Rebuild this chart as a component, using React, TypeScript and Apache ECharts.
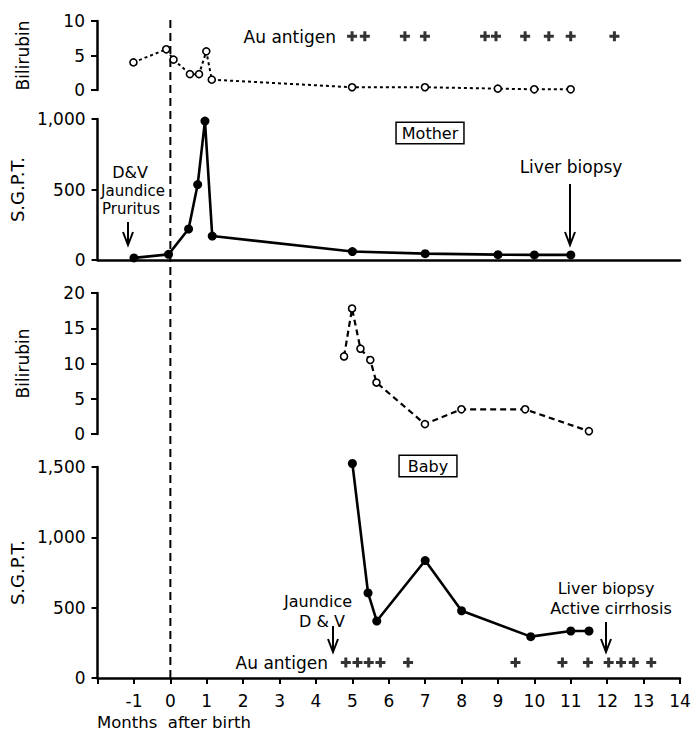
import React, { useEffect, useRef } from "react";
import * as echarts from "echarts";

// ---- data (months after birth) ----
const motherBiliMonths = [-1, -0.1, 0.1, 0.55, 0.8, 1.0, 1.15, 5, 7, 9, 10, 11];
const motherBiliValues = [4.0, 5.9, 4.4, 2.3, 2.3, 5.6, 1.5, 0.4, 0.4, 0.2, 0.1, 0.1];
const motherSgptMonths = [-1, -0.05, 0.5, 0.75, 0.95, 1.15, 5, 7, 9, 10, 11];
const motherSgptValues = [15, 40, 220, 535, 985, 170, 60, 45, 38, 36, 36];
const babyBiliMonths = [4.78, 5.0, 5.23, 5.5, 5.67, 7, 8, 9.75, 11.5];
const babyBiliValues = [11, 17.8, 12.1, 10.5, 7.3, 1.4, 3.5, 3.5, 0.4];
const babySgptMonths = [5.0, 5.43, 5.67, 7, 8, 9.9, 11, 11.5];
const babySgptValues = [1525, 605, 405, 835, 478, 294, 334, 334];
const motherAuMonths = [5.0, 5.35, 6.45, 7.0, 8.65, 8.95, 9.75, 10.4, 11.0, 12.2];
const motherAuLevel = 7.8; // bilirubin units
const babyAuMonths = [4.82, 5.14, 5.45, 5.77, 6.53, 9.48, 10.77, 11.47, 12.04, 12.38, 12.73, 13.21];
const babyAuLevel = 110; // S.G.P.T. units
const xMin = -2;
const xMax = 14;
const yRanges = [
  { max: 10, interval: 5, name: "Bilirubin" },
  { max: 1000, interval: 500, name: "S.G.P.T." },
  { max: 20, interval: 5, name: "Bilirubin" },
  { max: 1500, interval: 500, name: "S.G.P.T." },
];

const FONT = "DejaVu Sans";
const BLACK = "#000";
const PLUS = "path://M3.5,0H6.5V3.5H10V6.5H6.5V10H3.5V6.5H0V3.5H3.5Z";

const pairs = (xs: number[], ys: number[]) => xs.map((x, i) => [x, ys[i]]);

const grids = [
  { left: 97, right: 14, top: 21, height: 69 },
  { left: 97, right: 14, top: 119, height: 141 },
  { left: 97, right: 14, top: 293, height: 141 },
  { left: 97, right: 14, top: 467, height: 211 },
];

function buildOption() {
  const xAxis = grids.map((_, i) => ({
    type: "value",
    gridIndex: i,
    min: xMin,
    max: xMax,
    interval: 1,
    show: i === 1 || i === 3,
    axisLine: { show: true, onZero: false, lineStyle: { color: BLACK, width: 2.5 } },
    axisTick: { show: i === 3, length: 6, lineStyle: { color: BLACK, width: 2 } },
    axisLabel: {
      show: i === 3,
      color: BLACK,
      fontSize: 17,
      fontFamily: FONT,
      margin: 14,
      formatter: (v: number) => (v === xMin ? "" : String(v)),
    },
    splitLine: { show: false },
  }));
  const yAxis = yRanges.map((r, i) => ({
    type: "value",
    gridIndex: i,
    min: 0,
    max: r.max,
    interval: r.interval,
    name: r.name,
    nameLocation: "middle",
    nameRotate: 90,
    nameGap: 66,
    nameTextStyle: { color: BLACK, fontSize: i % 2 === 0 ? 17 : 18, fontFamily: FONT },
    axisLine: { show: true, onZero: false, lineStyle: { color: BLACK, width: 2.5 } },
    axisTick: { show: true, length: 6, lineStyle: { color: BLACK, width: 2 } },
    axisLabel: {
      color: BLACK,
      fontSize: 17,
      fontFamily: FONT,
      margin: 12,
      formatter: (v: number) => v.toLocaleString("en-US"),
    },
    splitLine: { show: false },
  }));
  const openCircle = { color: "#fff", borderColor: BLACK, borderWidth: 1.6 };
  return {
    animation: false,
    backgroundColor: "#fff",
    textStyle: { fontFamily: FONT, color: BLACK },
    grid: grids,
    xAxis,
    yAxis,
    series: [
      {
        type: "line",
        xAxisIndex: 0,
        yAxisIndex: 0,
        data: pairs(motherBiliMonths, motherBiliValues),
        symbol: "circle",
        symbolSize: 7,
        clip: false,
        lineStyle: { color: BLACK, width: 2, type: [3, 3] },
        itemStyle: openCircle,
        z: 5,
      },
      {
        type: "scatter",
        xAxisIndex: 0,
        yAxisIndex: 0,
        data: motherAuMonths.map((m) => [m, motherAuLevel]),
        symbol: PLUS,
        symbolSize: 10,
        clip: false,
        itemStyle: { color: BLACK },
      },
      {
        type: "line",
        xAxisIndex: 1,
        yAxisIndex: 1,
        data: pairs(motherSgptMonths, motherSgptValues),
        symbol: "circle",
        symbolSize: 9,
        clip: false,
        lineStyle: { color: BLACK, width: 2.6 },
        itemStyle: { color: BLACK },
        z: 5,
      },
      {
        type: "line",
        xAxisIndex: 2,
        yAxisIndex: 2,
        data: pairs(babyBiliMonths, babyBiliValues),
        symbol: "circle",
        symbolSize: 7,
        clip: false,
        lineStyle: { color: BLACK, width: 2.2, type: [6, 4] },
        itemStyle: openCircle,
        z: 5,
      },
      {
        type: "line",
        xAxisIndex: 3,
        yAxisIndex: 3,
        data: pairs(babySgptMonths, babySgptValues),
        symbol: "circle",
        symbolSize: 9,
        clip: false,
        lineStyle: { color: BLACK, width: 2.6 },
        itemStyle: { color: BLACK },
        z: 5,
      },
      {
        type: "scatter",
        xAxisIndex: 3,
        yAxisIndex: 3,
        data: babyAuMonths.map((m) => [m, babyAuLevel]),
        symbol: PLUS,
        symbolSize: 10,
        clip: false,
        itemStyle: { color: BLACK },
      },
    ],
  };
}

function txt(x: number, y: number, text: string, size: number, align = "center", extra: any = {}) {
  return {
    type: "text",
    x,
    y,
    z: 20,
    style: {
      text,
      fontSize: size,
      fontFamily: FONT,
      fill: BLACK,
      align,
      verticalAlign: "middle",
      ...extra,
    },
  };
}

function arrow(x: number, y1: number, y2: number) {
  return [
    { type: "line", z: 20, shape: { x1: x, y1, x2: x, y2 }, style: { stroke: BLACK, lineWidth: 2 } },
    {
      type: "polyline",
      z: 20,
      shape: { points: [[x - 5, y2 - 13], [x, y2], [x + 5, y2 - 13]] },
      style: { stroke: BLACK, lineWidth: 2, fill: null },
    },
  ];
}

export default function App() {
  const ref = useRef<HTMLDivElement>(null);
  useEffect(() => {
    const chart = echarts.init(ref.current!, null, { renderer: "svg" });
    chart.setOption(buildOption() as any);
    const zero = chart.convertToPixel({ gridIndex: 3 } as any, [0, 0]) as number[];
    const box = { borderColor: BLACK, borderWidth: 1.5, backgroundColor: "#fff" };
    const graphic: any[] = [
      {
        type: "line",
        z: 1,
        shape: { x1: zero[0], y1: 20, x2: zero[0], y2: zero[1] },
        style: { stroke: BLACK, lineWidth: 2, lineDash: [8, 5] },
      },
      txt(336, 37, "Au antigen", 17, "right"),
      txt(430, 133, "Mother", 16, "center", { ...box, padding: [2, 5] }),
      txt(130, 172, "D&V", 16),
      txt(133, 191, "Jaundice", 15),
      txt(131, 209, "Pruritus", 15),
      ...arrow(128, 222, 245),
      txt(571, 167, "Liver biopsy", 17),
      ...arrow(570, 184, 245),
      txt(428, 466, "Baby", 16, "center", { ...box, padding: [2, 8] }),
      txt(318, 601, "Jaundice", 16),
      txt(322, 621, "D & V", 16),
      ...arrow(333, 626, 652),
      txt(328, 663, "Au antigen", 17, "right"),
      txt(606, 588, "Liver biopsy", 16),
      txt(611, 608, "Active cirrhosis", 16),
      ...arrow(606, 622, 652),
      txt(97, 722, "Months  after birth", 16.5, "left"),
    ];
    chart.setOption({ graphic });
    return () => chart.dispose();
  }, []);
  return <div ref={ref} style={{ position: "fixed", left: 0, top: 0, width: 694, height: 731 }} />;
}
